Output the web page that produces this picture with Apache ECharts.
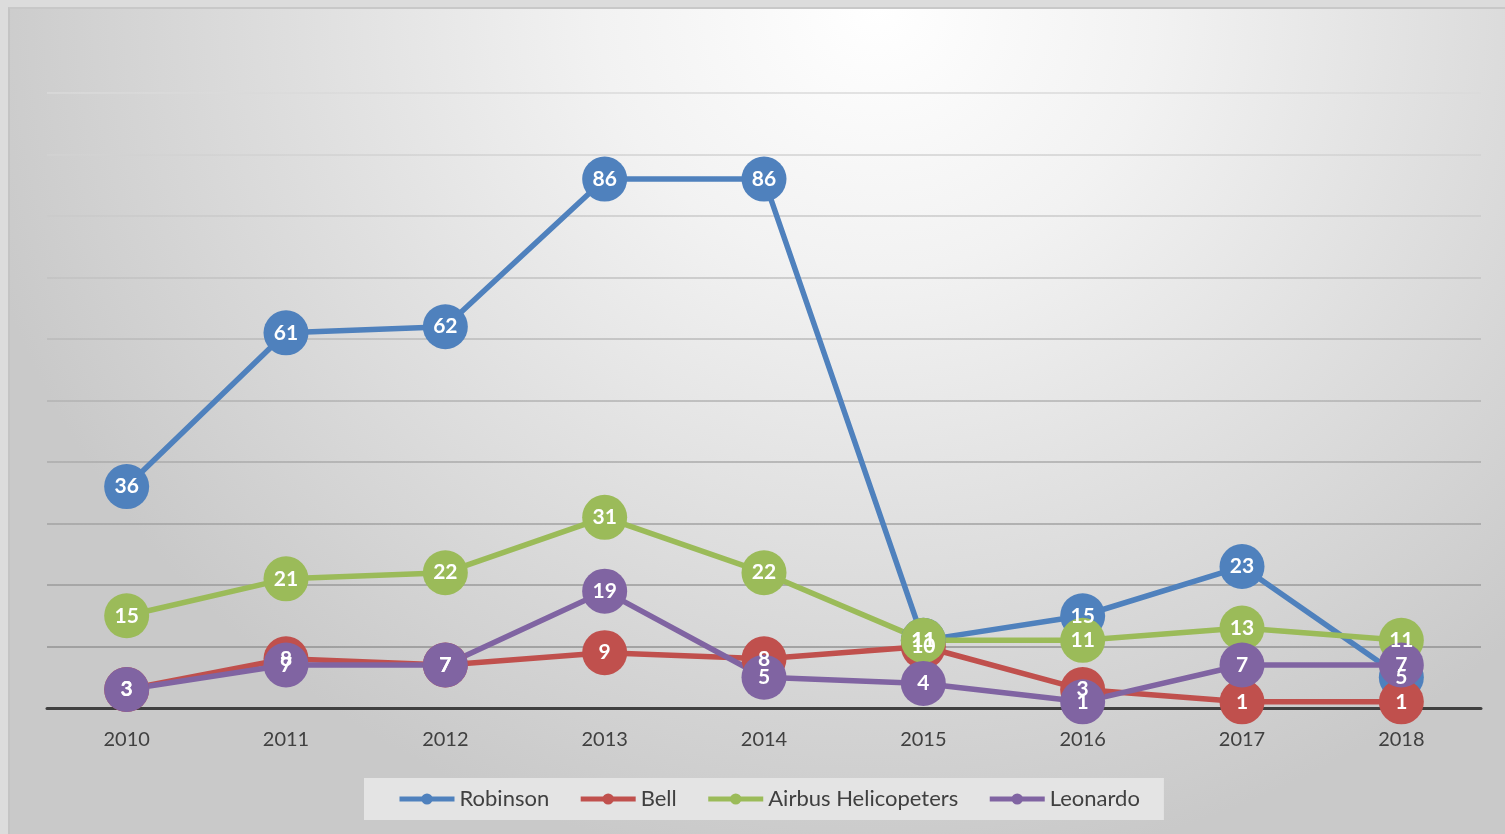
<!DOCTYPE html>
<html>
<head>
<meta charset="utf-8">
<script src="https://cdn.jsdelivr.net/npm/echarts@6/dist/echarts.min.js"></script>
<style>
  html, body { margin: 0; padding: 0; background: #dcdcdc; overflow: hidden; }
  #frame {
    position: absolute; left: 8px; top: 7px; right: 0; bottom: 0;
    border-left: 2px solid #c4c4c4; border-top: 2px solid #c8c8c8;
    background: radial-gradient(ellipse 62% 105% at 58% 0%, #ffffff 0%, #f2f2f2 30%, #dfdfdf 62%, #c9c9c9 100%);
  }
  #chart { position: absolute; left: 0; top: 0; width: 1505px; height: 834px; }
</style>
</head>
<body>
<div id="frame"></div>
<div id="chart"></div>
<script>
// years on the x axis
const years = ['2010', '2011', '2012', '2013', '2014', '2015', '2016', '2017', '2018'];
const seriesNames = ['Robinson', 'Bell', 'Airbus Helicopeters', 'Leonardo'];
const robinson = [36, 61, 62, 86, 86, 11, 15, 23, 5];
const bell = [3, 8, 7, 9, 8, 10, 3, 1, 1];
const airbus = [15, 21, 22, 31, 22, 11, 11, 13, 11];
const leonardo = [3, 7, 7, 19, 5, 4, 1, 7, 7];

const colors = ['#4f81bd', '#c0504d', '#9bbb59', '#8064a2'];
const font = 'Lato, "Open Sans", sans-serif';

const chart = echarts.init(document.getElementById('chart'), null, { renderer: 'canvas' });

function lineSeries(name, data, color) {
  return {
    name,
    type: 'line',
    data,
    symbol: 'circle',
    symbolSize: 45,
    lineStyle: { width: 5.5, color },
    itemStyle: { color },
    label: {
      show: true,
      position: 'inside',
      color: '#fff',
      fontFamily: font,
      fontWeight: 'bold',
      fontSize: 21,
    },
    emphasis: { disabled: true },
    animation: false,
  };
}

const option = {
  backgroundColor: 'transparent',
  color: colors,
  grid: { left: 47, right: 24, top: 93, bottom: 126 },
  legend: {
    data: seriesNames,
    bottom: 14,
    left: 364,
    backgroundColor: '#e4e4e4',
    padding: [10, 24, 10, 33],
    itemGap: 29,
    itemWidth: 55,
    itemHeight: 14,
    lineStyle: { width: 5 },
    textStyle: { color: '#404040', fontSize: 22, fontFamily: font },
  },
  xAxis: {
    type: 'category',
    data: years,
    boundaryGap: true,
    axisTick: { show: false },
    axisLine: { lineStyle: { color: '#404040', width: 3 } },
    axisLabel: { color: '#404040', fontSize: 20, fontFamily: font, margin: 22 },
    z: 1,
  },
  yAxis: {
    type: 'value',
    min: 0,
    max: 100,
    interval: 10,
    axisLabel: { show: false },
    axisLine: { show: false },
    axisTick: { show: false },
    splitLine: {
      lineStyle: {
        width: 1.5,
        color: {
          type: 'linear', global: true, x: 0, y: 93, x2: 0, y2: 708,
          colorStops: [
            { offset: 0, color: '#dadada' },
            { offset: 1, color: '#8a8a8a' },
          ],
        },
      },
    },
  },
  series: [
    lineSeries(seriesNames[0], robinson, colors[0]),
    lineSeries(seriesNames[1], bell, colors[1]),
    lineSeries(seriesNames[2], airbus, colors[2]),
    lineSeries(seriesNames[3], leonardo, colors[3]),
  ],
};

chart.setOption(option);
window.addEventListener('resize', () => chart.resize());
</script>
</body>
</html>
